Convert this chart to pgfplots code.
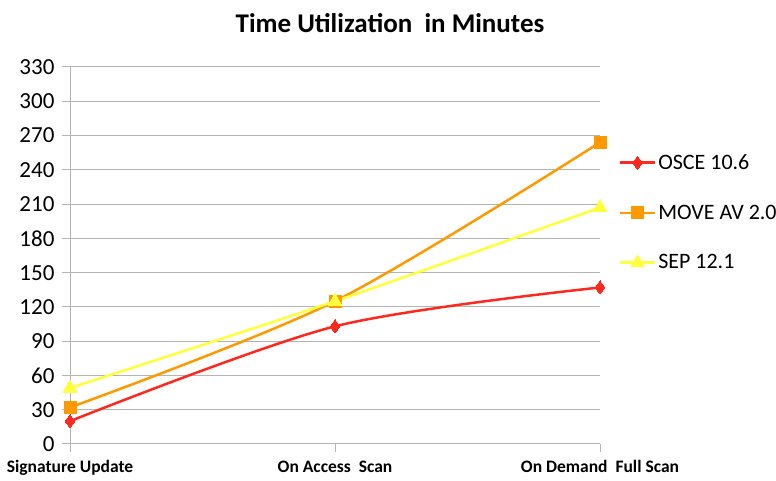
\documentclass[border=0pt]{standalone}
\usepackage{fontspec}
\setmainfont{Carlito}
\usepackage{pgfplots}
\pgfplotsset{compat=1.18}
\definecolor{cred}{RGB}{255,40,30}
\definecolor{corange}{RGB}{255,153,0}
\definecolor{cyellow}{RGB}{255,255,60}
\definecolor{cgrid}{RGB}{180,180,180}
\begin{document}
\begin{tikzpicture}[x=1pt,y=1pt]
\useasboundingbox (0,0) rectangle (776,481);
\node[font=\fontsize{27}{29}\selectfont\bfseries] at (390,458) {Time Utilization\ \ in Minutes};
\begin{axis}[
  at={(70pt,37pt)}, anchor=south west,
  scale only axis, width=530pt, height=377pt,
  xmin=0, xmax=2, ymin=0, ymax=330,
  xtick={0,1,2},
  xticklabels={Signature Update, On Access\ \ Scan, On Demand\ \ Full Scan},
  x tick label style={font=\fontsize{17.5}{19}\selectfont\bfseries, yshift=-5pt},
  ytick={0,30,...,330},
  y tick label style={font=\fontsize{23}{25}\selectfont, xshift=-4pt},
  /pgf/number format/assume math mode=true,
  axis x line=bottom, axis y line=left,
  axis line style={-, cgrid, line width=1pt},
  tick style={cgrid, line width=1pt},
  tick align=outside, major tick length=8pt,
  ymajorgrids, grid style={cgrid, line width=1pt},
  clip=false,
  legend style={at={(1.035,0.614)}, anchor=west, draw=none, fill=none,
    font=\fontsize{22}{24}\selectfont, row sep=30pt, inner sep=0pt},
  legend cell align=left,
  legend image code/.code={
    \draw[#1, mark=none] (0pt,0pt) -- (35pt,0pt);
    \draw[#1, only marks] plot coordinates {(17.5pt,0pt)};
  },
]
\addplot[cred, line width=2.5pt, smooth, tension=0.5, mark=diamond*, mark size=6.5pt, mark options={solid, fill=cred, draw=cred, line width=0pt}]
  coordinates {(0,20) (1,103) (2,137)};
\addlegendentry{OSCE 10.6}
\addplot[corange, line width=2.5pt, smooth, tension=0.5, mark=square*, mark size=6pt, mark options={solid, fill=corange, draw=corange, line width=0pt}]
  coordinates {(0,32) (1,125) (2,264)};
\addlegendentry{MOVE AV 2.0}
\addplot[cyellow, line width=2.5pt, smooth, tension=0.5, mark=triangle*, mark size=8pt, mark options={solid, fill=cyellow, draw=cyellow, line width=0pt}]
  coordinates {(0,49) (1,125) (2,207)};
\addlegendentry{SEP 12.1}
\end{axis}
\end{tikzpicture}
\end{document}
